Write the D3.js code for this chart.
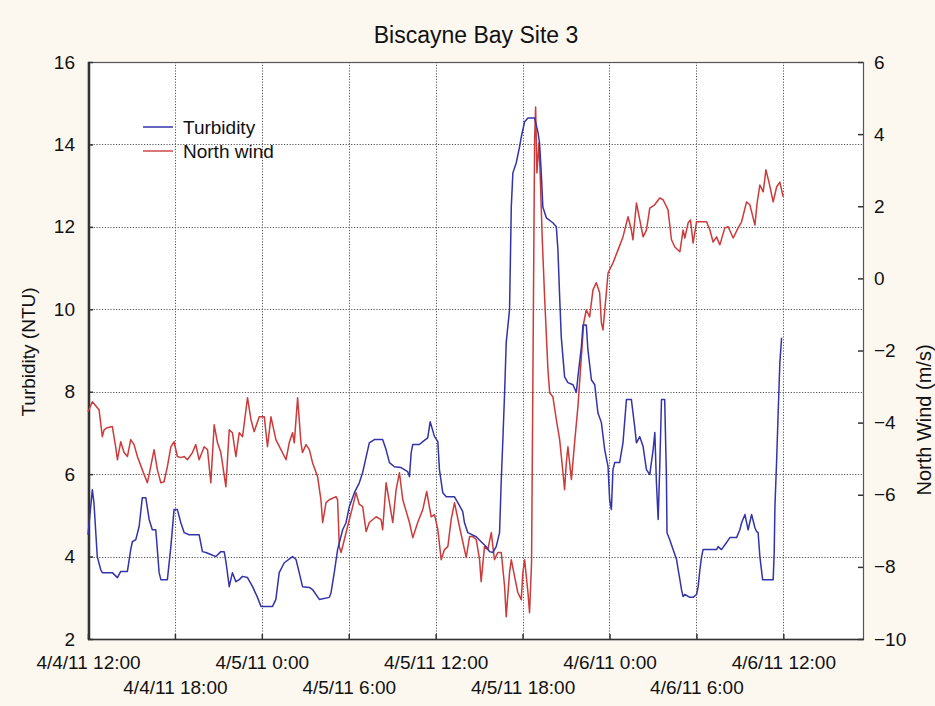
<!DOCTYPE html>
<html>
<head>
<meta charset="utf-8">
<script src="https://cdn.jsdelivr.net/npm/d3@7"></script>
<style>
  html, body { margin: 0; padding: 0; background: #fcf8f0; }
  svg { display: block; }
  text { font-family: "Liberation Sans", Arial, sans-serif; fill: #111; }
</style>
</head>
<body>
<svg id="chart" width="935" height="706"></svg>
<script>
// ---------- DATA ----------
const startTime = new Date(2011, 3, 4, 12, 0);   // 4/4/11 12:00
const endHours = 53.5;                            // axis runs to ~4/6/11 17:30
const tickHours = [0, 6, 12, 18, 24, 30, 36, 42, 48];
const leftTicks = [2, 4, 6, 8, 10, 12, 14, 16];
const rightTicks = [-10, -8, -6, -4, -2, 0, 2, 4, 6];

// Turbidity (NTU): hours since start, value
const turbHours = [0,0.30,0.41,0.64,0.88,0.99,1.68,2.03,2.26,2.72,2.95,3.06,3.30,3.53,3.75,3.99,4.22,4.44,4.68,4.91,5.03,5.48,5.72,5.94,6.17,6.41,6.64,6.98,7.67,7.90,8.14,8.48,8.83,9.17,9.40,9.52,9.75,9.97,10.21,10.44,10.67,11.01,11.36,11.70,11.94,12.74,12.97,13.20,13.55,14.12,14.36,14.58,14.81,15.28,15.50,15.97,16.66,16.78,17.00,17.23,17.58,17.81,18.04,18.39,18.73,18.96,19.20,19.42,19.77,20.34,20.58,20.81,21.15,21.61,22.07,22.19,22.31,22.42,22.88,23.11,23.45,23.62,23.92,24.15,24.26,24.49,24.73,25.30,25.53,25.87,25.99,26.22,26.80,27.14,27.49,27.72,27.95,28.18,28.41,28.53,28.64,28.76,28.87,29.10,29.22,29.33,29.56,29.79,29.91,30.14,30.37,30.83,31.06,31.17,31.29,31.40,31.64,32.09,32.33,32.44,32.56,32.67,32.90,33.13,33.48,33.71,33.82,34.06,34.17,34.40,34.51,34.75,34.98,35.20,35.44,35.67,35.90,36.01,36.13,36.24,36.36,36.70,36.93,37.17,37.51,37.74,37.86,38.09,38.32,38.55,38.78,39.01,39.13,39.24,39.36,39.47,39.59,39.81,39.93,39.97,40.16,40.39,40.63,40.74,40.86,40.97,41.08,41.20,41.55,41.77,42.01,42.12,42.24,42.35,42.46,43.39,43.50,43.73,44.08,44.31,44.77,45.00,45.12,45.35,45.57,45.81,46.04,46.15,46.26,46.38,46.57,47.30,47.37,47.42,47.54,47.65,47.76,47.88];
const turbValues = [4.53,5.62,5.31,4.00,3.68,3.61,3.61,3.49,3.64,3.64,4.17,4.36,4.41,4.73,5.43,5.43,4.90,4.65,4.65,3.61,3.44,3.44,4.24,5.14,5.14,4.82,4.58,4.53,4.53,4.12,4.10,4.05,4.00,4.12,4.12,3.88,3.27,3.61,3.39,3.44,3.52,3.49,3.27,3.01,2.79,2.79,2.96,3.61,3.85,4.00,3.93,3.61,3.27,3.25,3.20,2.96,3.01,3.13,3.61,4.17,4.65,4.82,5.21,5.55,5.79,6.04,6.42,6.76,6.84,6.84,6.59,6.28,6.18,6.16,6.06,5.94,6.52,6.72,6.72,6.79,6.88,7.27,6.91,6.79,6.11,5.55,5.45,5.45,5.31,5.09,4.82,4.58,4.48,4.36,4.24,4.12,4.10,4.24,4.58,5.87,6.84,7.98,9.19,9.99,12.48,13.31,13.55,13.94,14.18,14.55,14.64,14.64,14.30,14.04,13.31,12.48,12.22,12.10,12.00,11.44,10.30,9.33,8.36,8.22,8.17,7.98,8.36,9.09,9.62,9.62,9.02,8.29,8.17,7.49,7.25,6.59,6.18,5.38,5.14,6.11,6.28,6.28,6.76,7.81,7.81,7.15,6.76,6.91,6.67,6.11,5.99,6.59,7.01,5.79,4.90,6.18,7.81,7.81,5.94,4.58,4.41,4.17,3.93,3.68,3.44,3.20,3.03,3.08,3.01,3.01,3.08,3.27,3.68,3.98,4.17,4.17,4.24,4.17,4.34,4.46,4.46,4.65,4.82,5.02,4.65,5.02,4.70,4.61,4.58,4.00,3.44,3.44,4.10,5.21,6.35,7.56,8.70,9.31];

// North wind (m/s): hours since start, value
const windHours = [0,0.30,0.76,0.99,1.11,1.33,1.68,1.91,2.03,2.26,2.49,2.72,2.95,3.18,3.41,3.75,4.10,4.33,4.56,4.79,5.03,5.25,5.48,5.72,5.94,6.17,6.41,6.64,6.86,7.21,7.44,7.67,8.02,8.25,8.48,8.71,8.94,9.17,9.52,9.75,9.97,10.21,10.44,10.67,11.01,11.25,11.47,11.82,12.17,12.39,12.63,12.97,13.32,13.67,13.89,14.12,14.24,14.47,14.70,14.81,15.05,15.28,15.50,15.85,16.08,16.20,16.43,16.66,17.12,17.23,17.35,17.47,17.70,17.92,18.27,18.50,18.73,18.96,19.20,19.42,19.89,20.23,20.34,20.58,20.81,21.04,21.27,21.50,21.73,22.19,22.42,22.76,23.11,23.38,23.69,23.92,24.15,24.38,24.61,24.84,25.07,25.30,25.64,26.11,26.34,26.56,26.80,27.03,27.14,27.37,27.60,27.84,28.06,28.29,28.53,28.76,28.87,29.10,29.22,29.45,29.67,29.91,30.02,30.14,30.37,30.48,30.62,30.83,30.90,30.99,31.13,31.22,31.36,31.52,31.75,31.87,32.09,32.33,32.56,32.79,32.90,33.02,33.13,33.37,33.59,33.82,34.06,34.22,34.40,34.63,34.86,35.09,35.32,35.44,35.55,35.74,35.90,36.24,36.59,36.93,37.28,37.51,37.62,37.86,38.09,38.32,38.55,38.78,39.12,39.47,39.70,40.04,40.28,40.51,40.86,41.08,41.20,41.43,41.59,41.77,42.01,42.35,42.70,42.93,43.15,43.39,43.62,43.96,44.19,44.54,44.88,45.12,45.46,45.69,46.04,46.19,46.38,46.61,46.80,47.02,47.30,47.54,47.76,47.99];
const windValues = [-3.70,-3.42,-3.64,-4.39,-4.20,-4.14,-4.11,-4.67,-5.03,-4.53,-4.83,-4.94,-4.47,-4.61,-4.94,-5.31,-5.67,-5.22,-4.75,-5.31,-5.67,-5.64,-5.22,-4.67,-4.53,-4.94,-4.97,-4.94,-5.03,-4.83,-4.61,-5.03,-4.67,-4.75,-5.67,-4.06,-4.56,-4.83,-5.78,-4.20,-4.28,-4.94,-4.28,-4.39,-3.31,-3.92,-4.25,-3.84,-3.84,-4.67,-3.84,-4.47,-4.75,-5.03,-4.56,-4.28,-4.56,-3.31,-4.56,-4.83,-4.61,-4.75,-5.11,-5.50,-6.14,-6.77,-6.22,-6.14,-6.05,-6.14,-7.44,-7.60,-7.24,-6.88,-6.33,-5.94,-6.27,-6.33,-7.02,-6.77,-6.61,-6.69,-6.97,-5.67,-6.22,-6.77,-5.86,-5.39,-6.14,-6.77,-7.19,-6.77,-6.41,-5.91,-6.61,-6.55,-6.97,-7.80,-7.52,-7.44,-6.69,-6.22,-6.88,-7.74,-7.16,-7.16,-7.24,-7.80,-8.41,-7.44,-7.52,-7.05,-7.80,-7.60,-7.60,-8.55,-9.38,-8.16,-7.80,-8.27,-8.71,-8.91,-8.16,-7.80,-8.71,-9.27,-7.88,3.84,4.75,2.92,3.76,2.81,1.07,-0.51,-2.53,-3.17,-3.28,-3.92,-4.47,-5.39,-5.86,-5.11,-4.67,-5.58,-4.56,-3.56,-2.17,-1.23,-0.87,-1.07,-0.32,-0.12,-0.40,-1.23,-1.43,-0.59,0.15,0.43,0.79,1.15,1.71,1.34,1.07,2.09,1.62,1.15,1.34,1.95,2.04,2.23,2.18,1.90,1.07,0.87,0.74,1.34,1.12,1.54,1.62,0.98,1.57,1.57,1.57,1.34,1.01,1.15,0.93,1.40,1.43,1.12,1.40,1.57,2.12,2.04,1.48,2.09,2.59,2.40,3.01,2.65,2.12,2.54,2.67,2.26];

// ---------- LAYOUT ----------
const svg = d3.select("#chart");
const W = 935, H = 706;
const plot = { left: 88, top: 62, right: 863, bottom: 639 };
const hourMs = 3600 * 1000;
const toDate = h => new Date(startTime.getTime() + h * hourMs);

svg.append("rect").attr("width", W).attr("height", H).attr("fill", "#fcf8f0");

const x = d3.scaleTime()
  .domain([startTime, toDate(endHours)])
  .range([plot.left, plot.right]);
const yL = d3.scaleLinear().domain([2, 16]).range([plot.bottom, plot.top]);
const yR = d3.scaleLinear().domain([-10, 6]).range([plot.bottom, plot.top]);

// plot background
svg.append("rect")
  .attr("x", plot.left).attr("y", plot.top)
  .attr("width", plot.right - plot.left).attr("height", plot.bottom - plot.top)
  .attr("fill", "#ffffff");

// gridlines
const grid = svg.append("g").attr("stroke", "#555").attr("stroke-width", 1)
  .attr("stroke-dasharray", "1.2,1.6");
grid.selectAll("line.v").data(tickHours.slice(1)).enter().append("line")
  .attr("x1", d => Math.round(x(toDate(d))) + 0.5).attr("x2", d => Math.round(x(toDate(d))) + 0.5)
  .attr("y1", plot.top).attr("y2", plot.bottom);
grid.selectAll("line.h").data(leftTicks.slice(1, -1)).enter().append("line")
  .attr("x1", plot.left).attr("x2", plot.right)
  .attr("y1", d => Math.round(yL(d)) + 0.5).attr("y2", d => Math.round(yL(d)) + 0.5);

// frame
svg.append("rect")
  .attr("x", plot.left + 0.5).attr("y", plot.top + 0.5)
  .attr("width", plot.right - plot.left).attr("height", plot.bottom - plot.top)
  .attr("fill", "none").attr("stroke", "#555").attr("stroke-width", 1.2);
svg.append("line")
  .attr("x1", plot.left + 1).attr("x2", plot.left + 1)
  .attr("y1", plot.top).attr("y2", plot.bottom + 1)
  .attr("stroke", "#333").attr("stroke-width", 2.5);
svg.append("line")
  .attr("x1", plot.left).attr("x2", plot.right + 1)
  .attr("y1", plot.bottom + 0.5).attr("y2", plot.bottom + 0.5)
  .attr("stroke", "#333").attr("stroke-width", 1.5);

// axes
const fmt = d3.timeFormat("%-m/%-d/%y %-H:%M");
const xAxis = d3.axisBottom(x)
  .tickValues(tickHours.map(toDate))
  .tickSize(-5).tickFormat(fmt);
const gx = svg.append("g").attr("transform", `translate(0,${plot.bottom})`).call(xAxis);
gx.select(".domain").remove();
gx.selectAll(".tick line").attr("stroke", "#333").attr("stroke-width", 1.5);
gx.selectAll(".tick text")
  .attr("y", (d, i) => i % 2 === 0 ? 30 : 55)
  .attr("dy", 0)
  .attr("font-size", 19)
  .style("font-family", "'Liberation Sans', Arial, sans-serif")
  .attr("fill", "#111");

const yAxisL = d3.axisLeft(yL).tickValues(leftTicks).tickSize(-5).tickFormat(d3.format("d"));
const gyL = svg.append("g").attr("transform", `translate(${plot.left},0)`).call(yAxisL);
gyL.select(".domain").remove();
gyL.selectAll(".tick line").attr("stroke", "#333").attr("stroke-width", 1.5);
gyL.selectAll(".tick text").attr("x", -13).attr("font-size", 19)
  .style("font-family", "'Liberation Sans', Arial, sans-serif").attr("fill", "#111");

const yAxisR = d3.axisRight(yR).tickValues(rightTicks).tickSize(-5).tickFormat(d3.format("d"));
const gyR = svg.append("g").attr("transform", `translate(${plot.right},0)`).call(yAxisR);
gyR.select(".domain").remove();
gyR.selectAll(".tick line").attr("stroke", "#333").attr("stroke-width", 1.5);
gyR.selectAll(".tick text").attr("x", 11).attr("font-size", 19)
  .style("font-family", "'Liberation Sans', Arial, sans-serif").attr("fill", "#111");

// lines
const turb = turbHours.map((h, i) => ({ t: toDate(h), v: turbValues[i] }));
const wind = windHours.map((h, i) => ({ t: toDate(h), v: windValues[i] }));

svg.append("path").datum(wind)
  .attr("fill", "none").attr("stroke", "#cc3a3a").attr("stroke-width", 1.5)
  .attr("stroke-linejoin", "round")
  .attr("d", d3.line().x(d => x(d.t)).y(d => yR(d.v)));
svg.append("path").datum(turb)
  .attr("fill", "none").attr("stroke", "#3333aa").attr("stroke-width", 1.5)
  .attr("stroke-linejoin", "round")
  .attr("d", d3.line().x(d => x(d.t)).y(d => yL(d.v)));

// title & axis labels
svg.append("text").attr("x", 476).attr("y", 43).attr("text-anchor", "middle")
  .attr("font-size", 23).text("Biscayne Bay Site 3");
svg.append("text").attr("transform", "translate(35,352) rotate(-90)")
  .attr("text-anchor", "middle").attr("font-size", 19).text("Turbidity (NTU)");
svg.append("text").attr("transform", "translate(931,420) rotate(-90)")
  .attr("text-anchor", "middle").attr("font-size", 20).text("North Wind (m/s)");

// legend
const legend = [
  { name: "Turbidity", color: "#3333aa" },
  { name: "North wind", color: "#cc4a4a" }
];
const lg = svg.append("g");
legend.forEach((d, i) => {
  const yy = 127 + i * 24;
  lg.append("line").attr("x1", 143).attr("x2", 173).attr("y1", yy).attr("y2", yy)
    .attr("stroke", d.color).attr("stroke-width", 1.5);
  lg.append("text").attr("x", 183).attr("y", yy + 7).attr("font-size", 19).text(d.name);
});
</script>
</body>
</html>
